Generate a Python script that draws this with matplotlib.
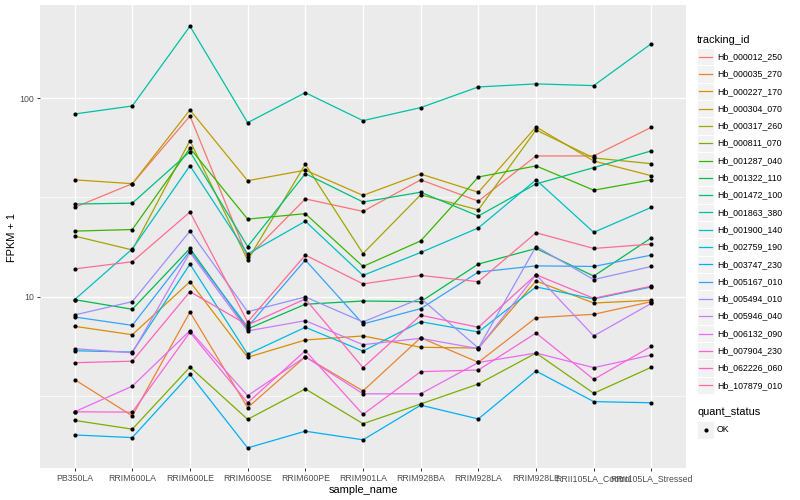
import matplotlib
matplotlib.use("Agg")
import matplotlib.pyplot as plt
from matplotlib.lines import Line2D
from matplotlib.patches import Rectangle

plt.rcParams["font.family"] = ["Liberation Sans", "DejaVu Sans"]

samples = ["PB350LA", "RRIM600LA", "RRIM600LE", "RRIM600SE", "RRIM600PE",
           "RRIM901LA", "RRIM928BA", "RRIM928LA", "RRIM928LE",
           "RRII105LA_Control", "RRII105LA_Stressed"]

tracking_ids = ["Hb_000012_250", "Hb_000035_270", "Hb_000227_170", "Hb_000304_070",
                "Hb_000317_260", "Hb_000811_070", "Hb_001287_040", "Hb_001322_110",
                "Hb_001472_100", "Hb_001863_380", "Hb_001900_140", "Hb_002759_190",
                "Hb_003747_230", "Hb_005167_010", "Hb_005494_010", "Hb_005946_040",
                "Hb_006132_090", "Hb_007904_230", "Hb_062226_060", "Hb_107879_010"]

# ggplot hue palette, 20 levels
colors = ["#F8766D", "#EA8331", "#D89000", "#C09B00", "#A3A500", "#7CAE00",
          "#39B600", "#00BB4E", "#00BF7D", "#00C1A3", "#00BFC4", "#00BAE0",
          "#00B0F6", "#35A2FF", "#9590FF", "#C77CFF", "#E76BF3", "#FA62DB",
          "#FF62BC", "#FF6C90"]

# FPKM + 1, one value per sample (same order as samples)
hb_000012_250 = [28.2, 37.1, 81.4, 15.8, 31.1, 26.9, 38.8, 30.3, 51.2, 51.2, 71.4]
hb_000035_270 = [3.82, 2.51, 8.37, 2.76, 4.98, 3.35, 6.21, 4.67, 7.84, 8.15, 9.44]
hb_000227_170 = [7.09, 6.43, 11.9, 4.95, 6.05, 6.34, 5.56, 5.51, 12.0, 9.29, 9.59]
hb_000304_070 = [38.8, 37.1, 87.3, 38.4, 43.4, 32.4, 41.5, 33.6, 71.7, 48.3, 40.7]
hb_000317_260 = [20.2, 17.2, 61.1, 15.3, 46.5, 16.5, 32.6, 27.4, 69.2, 50.0, 46.8]
hb_000811_070 = [2.38, 2.15, 4.42, 2.41, 3.43, 2.29, 2.88, 3.63, 5.20, 3.26, 4.41]
hb_001287_040 = [21.4, 21.8, 56.0, 24.6, 26.2, 14.2, 19.1, 40.1, 45.6, 34.4, 38.8]
hb_001322_110 = [9.66, 8.64, 17.5, 6.88, 9.16, 9.51, 9.44, 14.6, 17.5, 12.7, 19.8]
hb_001472_100 = [29.3, 29.6, 53.8, 17.9, 41.7, 30.0, 33.6, 25.5, 37.0, 44.7, 54.3]
hb_001863_380 = [83.3, 91.4, 230.6, 75.3, 106.7, 77.1, 89.7, 114.0, 118.1, 115.8, 188.4]
hb_001900_140 = [9.66, 17.4, 45.7, 16.4, 24.0, 12.8, 16.7, 22.2, 38.8, 21.1, 28.2]
hb_002759_190 = [5.34, 5.26, 14.6, 5.13, 7.01, 5.32, 7.48, 6.64, 11.2, 9.74, 11.2]
hb_003747_230 = [2.01, 1.95, 4.06, 1.73, 2.10, 1.90, 2.84, 2.42, 4.22, 2.96, 2.92]
hb_005167_010 = [7.90, 7.17, 17.0, 7.04, 15.3, 7.29, 8.70, 13.3, 14.3, 14.2, 16.2]
hb_005494_010 = [8.09, 9.44, 21.4, 8.40, 9.97, 7.46, 9.81, 5.51, 17.9, 12.2, 14.2]
hb_005946_040 = [5.47, 5.22, 16.7, 6.72, 7.57, 5.73, 6.17, 5.47, 12.9, 6.34, 9.26]
hb_006132_090 = [2.63, 3.54, 6.74, 3.17, 4.98, 3.24, 3.24, 4.66, 5.20, 4.39, 5.08]
hb_007904_230 = [2.63, 2.62, 6.62, 2.92, 5.34, 2.55, 4.19, 4.27, 6.56, 3.83, 5.62]
hb_062226_060 = [4.65, 4.73, 10.6, 7.20, 9.74, 4.39, 8.06, 7.01, 12.9, 9.81, 11.3]
hb_107879_010 = [13.8, 15.0, 26.7, 7.46, 16.2, 11.6, 12.8, 11.9, 21.0, 17.5, 18.4]

series = [hb_000012_250, hb_000035_270, hb_000227_170, hb_000304_070, hb_000317_260,
          hb_000811_070, hb_001287_040, hb_001322_110, hb_001472_100, hb_001863_380,
          hb_001900_140, hb_002759_190, hb_003747_230, hb_005167_010, hb_005494_010,
          hb_005946_040, hb_006132_090, hb_007904_230, hb_062226_060, hb_107879_010]

W, H = 800, 500
fig = plt.figure(figsize=(8, 5), dpi=100)
ax = fig.add_axes([40 / W, 1 - 468 / H, 646 / W, 463 / H])
ax.set_facecolor("#EBEBEB")

xs = list(range(len(samples)))
ax.set_xlim(-0.6, len(samples) - 0.4)
ax.set_yscale("log")
ax.set_ylim(1.37, 295)

# grid
for v in [10 ** 0.5, 10 ** 1.5, 10 ** 2.5]:
    ax.axhline(v, color="white", lw=0.5, zorder=0)
for v in [10, 100]:
    ax.axhline(v, color="white", lw=1.0, zorder=0)
for x in xs:
    ax.axvline(x, color="white", lw=1.0, zorder=0)

for vals, col in zip(series, colors):
    ax.plot(xs, vals, color=col, lw=0.9, zorder=2)
for vals in series:
    ax.plot(xs, vals, "o", color="black", ms=3.0, mew=0, zorder=3)

ax.set_yticks([10, 100])
ax.set_yticklabels(["10", "100"])
ax.yaxis.set_minor_locator(matplotlib.ticker.NullLocator())
ax.set_xticks(xs)
ax.set_xticklabels(samples)
ax.tick_params(axis="both", colors="#333333", labelcolor="#4D4D4D",
               labelsize=6.3, length=2.5, width=0.7, pad=2)
for s in ax.spines.values():
    s.set_visible(False)

fig.text(363 / W, 1 - 490 / H, "sample_name", ha="center", va="center", fontsize=7.9)
fig.text(12 / W, 1 - 237 / H, "FPKM + 1", ha="center", va="center",
         rotation=90, fontsize=7.9)

# legend: tracking_id
fig.text(697 / W, 1 - 40 / H, "tracking_id", ha="left", va="center", fontsize=7.9)
key = 17.3
y0 = 56.7
for i, (name, col) in enumerate(zip(tracking_ids, colors)):
    yc = y0 + i * key
    fig.patches.append(Rectangle((697 / W, 1 - (yc + key / 2) / H), key / W, key / H,
                                 transform=fig.transFigure, facecolor="#F2F2F2",
                                 edgecolor="white", lw=0.7))
    fig.lines.append(Line2D([699 / W, 712 / W], [1 - yc / H, 1 - yc / H],
                            transform=fig.transFigure, color=col, lw=0.9))
    fig.text(717 / W, 1 - yc / H, name, ha="left", va="center", fontsize=6.3)

# legend: quant_status
fig.text(697 / W, 1 - 412 / H, "quant_status", ha="left", va="center", fontsize=7.9)
yc = 430
fig.patches.append(Rectangle((697 / W, 1 - (yc + key / 2) / H), key / W, key / H,
                             transform=fig.transFigure, facecolor="#F2F2F2",
                             edgecolor="white", lw=0.7))
fig.lines.append(Line2D([705.6 / W], [1 - yc / H], transform=fig.transFigure,
                        marker="o", color="black", ms=3.0, mew=0))
fig.text(717 / W, 1 - yc / H, "OK", ha="left", va="center", fontsize=6.3)

fig.savefig("out.png", dpi=100)
